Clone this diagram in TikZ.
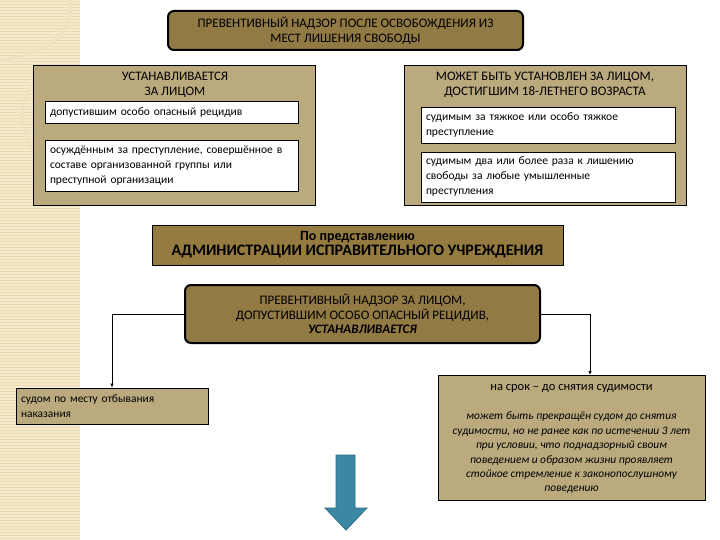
\documentclass[tikz,border=0pt]{standalone}
\usepackage{fontspec}
\setmainfont{Carlito}
\usetikzlibrary{arrows.meta}
\definecolor{darkkhaki}{HTML}{927A44}
\definecolor{tan1}{HTML}{BBAA7E}
\definecolor{midbox}{HTML}{957B3F}
\definecolor{stripbg}{HTML}{F5EACB}
\definecolor{stripln}{HTML}{EADBB0}
\definecolor{arrowblue}{HTML}{3A88A3}
\definecolor{arrowedge}{HTML}{2B6C80}
\begin{document}
\begin{tikzpicture}[x=1pt,y=-1pt,
  every node/.style={font=\fontsize{13}{15}\selectfont},
  roundbox/.style={draw=black, line width=2pt, rounded corners=6pt, fill=darkkhaki, align=center, inner sep=0pt},
  panel/.style={draw=black, line width=0.6pt, fill=tan1, inner sep=0pt},
  whitebox/.style={draw=black, line width=0.6pt, fill=white, align=left, inner xsep=5pt, inner ysep=2pt, font=\fontsize{11.5}{15}\selectfont},
  conn/.style={draw=black, line width=1pt, -{Latex[length=4pt,width=3.5pt]}}
]
\useasboundingbox (0,0) rectangle (720,540);
\fill[white] (0,0) rectangle (720,540);
% left decorative strip
\fill[stripbg] (0,0) rectangle (80,540);
\foreach \yy in {1,4,...,540} {\draw[stripln, line width=0.8pt] (0,\yy) -- (80,\yy);}
\draw[stripln!80!white, line width=3pt] (0,60) .. controls (60,55) and (75,20) .. (70,0);
\draw[stripln!80!white, line width=3pt] (40,160) .. controls (10,120) and (20,80) .. (60,70);

% title
\node[roundbox, minimum width=355pt, minimum height=39pt] (title) at (345.5,30.5)
  {ПРЕВЕНТИВНЫЙ НАДЗОР ПОСЛЕ ОСВОБОЖДЕНИЯ ИЗ\\МЕСТ ЛИШЕНИЯ СВОБОДЫ};

% left panel
\node[panel, minimum width=282pt, minimum height=140pt] (lpanel) at (174,135) {};
\node[align=center, inner sep=0pt] (lhead) at (175,85) {УСТАНАВЛИВАЕТСЯ\\ЗА ЛИЦОМ};
\node[whitebox, text width=243pt, minimum height=22pt] (lw1) at (171.5,112.5)
  {допустившим особо опасный рецидив};
\node[whitebox, text width=243pt, minimum height=51pt] (lw2) at (171.5,165.5)
  {осуждённым за преступление, совершённое в\\составе организованной группы или\\преступной организации};

% right panel
\node[panel, minimum width=282pt, minimum height=140pt] (rpanel) at (545,135) {};
\node[align=center, inner sep=0pt] (rhead) at (545,85) {МОЖЕТ БЫТЬ УСТАНОВЛЕН ЗА ЛИЦОМ,\\ДОСТИГШИМ 18-ЛЕТНЕГО ВОЗРАСТА};
\node[whitebox, text width=244pt, minimum height=36pt] (rw1) at (548,125)
  {судимым за тяжкое или особо тяжкое\\преступление};
\node[whitebox, text width=244pt, minimum height=50pt] (rw2) at (548,177)
  {судимым два или более раза к лишению\\свободы за любые умышленные\\преступления};

% middle box
\node[draw=black, line width=0.8pt, fill=midbox, minimum width=411pt, minimum height=40pt, align=center, inner sep=0pt] (admin) at (357.5,245)
  {{\fontsize{14}{17}\selectfont\textbf{По представлению}}\\{\fontsize{16}{17}\selectfont\textbf{АДМИНИСТРАЦИИ ИСПРАВИТЕЛЬНОГО УЧРЕЖДЕНИЯ}}};

% main box
\node[roundbox, minimum width=355pt, minimum height=58pt, font=\fontsize{13}{14.5}\selectfont] (main) at (362.5,314)
  {ПРЕВЕНТИВНЫЙ НАДЗОР ЗА ЛИЦОМ,\\ДОПУСТИВШИМ ОСОБО ОПАСНЫЙ РЕЦИДИВ,\\\textbf{\textit{УСТАНАВЛИВАЕТСЯ}}};

% bottom left box
\node[draw=black, line width=0.8pt, fill=tan1, text width=182pt, minimum height=36pt, align=left, inner xsep=5pt, inner ysep=2pt, font=\fontsize{11.4}{15}\selectfont] (lbox) at (112,406)
  {судом по месту отбывания\\наказания};

% bottom right box
\node[draw=black, line width=0.8pt, fill=tan1, minimum width=267pt, minimum height=125pt, inner sep=0pt] (rbox) at (571.5,437.5) {};
\node[inner sep=0pt, font=\fontsize{12.5}{15}\selectfont] (rterm) at (571.5,388) {на срок -- до снятия судимости};
\node[align=center, inner sep=0pt, font=\fontsize{11.4}{14.4}\selectfont\itshape] (rnote) at (571.5,453)
  {может быть прекращён судом до снятия\\судимости, но не ранее как по истечении 3 лет\\при условии, что поднадзорный своим\\поведением и образом жизни проявляет\\стойкое стремление к законопослушному\\поведению};

% connectors
\coordinate (rtop) at (590,375);
\draw[conn] (main.west) -| (lbox.north);
\draw[conn] (main.east) -| (rtop);

% blue arrow
\draw[fill=arrowblue, draw=arrowedge, line width=0.8pt]
  (336,455) -- (355,455) -- (355,508) -- (367,508) -- (346,530) -- (325,508) -- (336,508) -- cycle;
\end{tikzpicture}
\end{document}
